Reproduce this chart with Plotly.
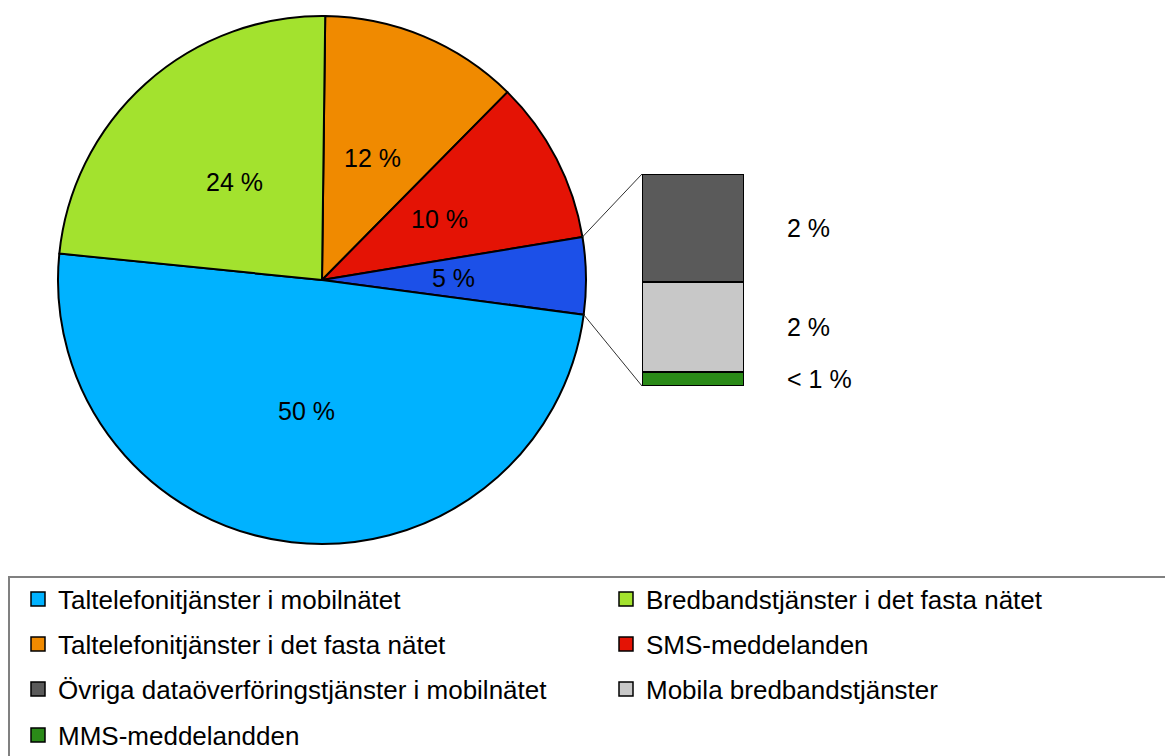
import math
import plotly.graph_objects as go

# ---------------- data ----------------
pie_categories = [
    "Taltelefonitjänster i mobilnätet",
    "Bredbandstjänster i det fasta nätet",
    "Taltelefonitjänster i det fasta nätet",
    "SMS-meddelanden",
]
pie_values = [49.5, 23.6, 12.2, 10.0]

bar_categories = [
    "Övriga dataöverföringstjänster i mobilnätet",
    "Mobila bredbandstjänster",
    "MMS-meddelandden",
]
bar_values = [2.4, 2.0, 0.3]

other_label = "Övrigt"

# legend order (row-major, two columns)
legend_order = [
    "Taltelefonitjänster i mobilnätet",
    "Bredbandstjänster i det fasta nätet",
    "Taltelefonitjänster i det fasta nätet",
    "SMS-meddelanden",
    "Övriga dataöverföringstjänster i mobilnätet",
    "Mobila bredbandstjänster",
    "MMS-meddelandden",
]

# ---------------- styles ----------------
W, H = 1165, 756
FONT = "Liberation Sans, Arial, sans-serif"
colors = {
    "Taltelefonitjänster i mobilnätet": "#00B2FF",
    "Bredbandstjänster i det fasta nätet": "#A3E22E",
    "Taltelefonitjänster i det fasta nätet": "#F08A00",
    "SMS-meddelanden": "#E41305",
    other_label: "#1C50E8",
    "Övriga dataöverföringstjänster i mobilnätet": "#5A5A5A",
    "Mobila bredbandstjänster": "#C8C8C8",
    "MMS-meddelandden": "#2A8A18",
}

# pie geometry (pixels)
CX, CY, R = 322, 280, 264
ROT = 0.7  # degrees clockwise from 12 o'clock
# bar geometry (pixels)
BX0, BX1, BY0, BY1 = 642, 744, 174, 386
# legend geometry (pixels)
COL_X = [18, 606]
ROW_Y = [599, 644, 689, 735]


def pct(v):
    return "< 1 %" if v < 1 else f"{round(v)} %"


other_total = sum(bar_values)
# clockwise order starting at 12 o'clock
pie_order = [
    ("Taltelefonitjänster i det fasta nätet", pie_values[2]),
    ("SMS-meddelanden", pie_values[3]),
    (other_label, other_total),
    ("Taltelefonitjänster i mobilnätet", pie_values[0]),
    ("Bredbandstjänster i det fasta nätet", pie_values[1]),
]
p_labels = [p[0] for p in pie_order]
p_vals = [p[1] for p in pie_order]
total = sum(p_vals)

fig = go.Figure()

fig.add_trace(go.Pie(
    labels=p_labels, values=p_vals, sort=False, direction="clockwise",
    rotation=ROT, textinfo="none", hoverinfo="label+percent",
    marker=dict(colors=[colors[l] for l in p_labels], line=dict(color="#000000", width=2)),
    domain=dict(x=[(CX - R) / W, (CX + R) / W], y=[1 - (CY + R) / H, 1 - (CY - R) / H]),
    showlegend=False,
))


def pt(angle_deg, r):
    a = math.radians(angle_deg)
    x = CX + r * math.sin(a)
    y = CY - r * math.cos(a)
    return x / W, 1 - y / H


annotations = []
cum = 0.0
other_bounds = None
for lab, v in zip(p_labels, p_vals):
    a0 = ROT + 360 * cum / total
    a1 = ROT + 360 * (cum + v) / total
    cum += v
    xm, ym = pt((a0 + a1) / 2, 0.5 * R)
    annotations.append(dict(x=xm, y=ym, xref="paper", yref="paper", text=pct(v),
                            xanchor="center", yanchor="middle", showarrow=False,
                            font=dict(size=25, color="#000000", family=FONT)))
    if lab == other_label:
        other_bounds = (a0, a1)

# stacked bar (bottom to top)
stack = list(zip(bar_categories, bar_values))[::-1]
base = 0.0
for lab, v in stack:
    fig.add_trace(go.Bar(
        x=[0], y=[v], name=lab, width=1,
        marker=dict(color=colors[lab], line=dict(color="#000000", width=2)),
        xaxis="x", yaxis="y", showlegend=False, hoverinfo="name+y",
    ))
    annotations.append(dict(x=785 / W, y=base + v / 2, xref="paper", yref="y", text=pct(v),
                            xanchor="left", yanchor="middle", showarrow=False,
                            font=dict(size=25, color="#000000", family=FONT)))
    base += v

# legend entries: one small legend per entry, laid out in two columns
legends = {}
for i, lab in enumerate(legend_order):
    key = "legend" if i == 0 else f"legend{i + 1}"
    fig.add_trace(go.Scatter(
        x=[None], y=[None], name=lab, mode="markers",
        marker=dict(symbol="square", size=14, color=colors[lab],
                    line=dict(color="#000000", width=1.5)),
        xaxis="x2", yaxis="y2", legend=key, showlegend=True,
    ))
    legends[key] = dict(
        orientation="h", x=COL_X[i % 2] / W, xanchor="left",
        y=1 - ROW_Y[i // 2] / H, yanchor="middle",
        font=dict(size=26, color="#000000", family=FONT),
        bgcolor="rgba(0,0,0,0)", borderwidth=0,
    )

# connector lines from pie "other" slice to bar
shapes = []
(xa, ya) = pt(other_bounds[0], R)
(xb, yb) = pt(other_bounds[1], R)
shapes.append(dict(type="line", xref="paper", yref="paper", x0=xa, y0=ya,
                   x1=BX0 / W, y1=1 - BY0 / H, line=dict(color="#303030", width=1)))
shapes.append(dict(type="line", xref="paper", yref="paper", x0=xb, y0=yb,
                   x1=BX0 / W, y1=1 - BY1 / H, line=dict(color="#303030", width=1)))
# legend frame
shapes.append(dict(type="rect", xref="paper", yref="paper", x0=9 / W, y0=-0.02,
                   x1=1.02, y1=1 - 577 / H, line=dict(color="#808080", width=2),
                   layer="below"))

fig.update_layout(
    width=W, height=H,
    margin=dict(l=0, r=0, t=0, b=0, autoexpand=False),
    paper_bgcolor="#FFFFFF", plot_bgcolor="rgba(0,0,0,0)",
    barmode="stack", bargap=0,
    font=dict(family=FONT, color="#000000"),
    xaxis=dict(domain=[BX0 / W, BX1 / W], range=[-0.5, 0.5], visible=False, fixedrange=True),
    yaxis=dict(domain=[1 - BY1 / H, 1 - BY0 / H], range=[0, other_total], visible=False, fixedrange=True),
    xaxis2=dict(domain=[0, 0.01], visible=False),
    yaxis2=dict(domain=[0, 0.01], visible=False),
    annotations=annotations,
    shapes=shapes,
    **legends,
)

fig.write_html("out.html", config={"displayModeBar": False},
               post_script="document.body.style.margin='0px';")
